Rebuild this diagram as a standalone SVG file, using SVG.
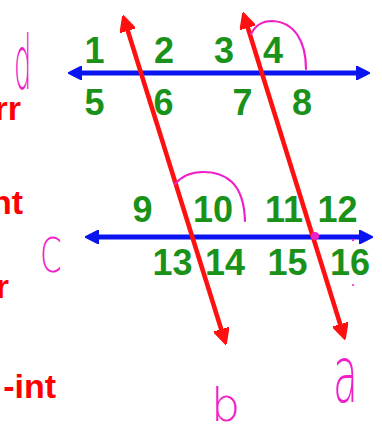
<svg xmlns="http://www.w3.org/2000/svg" width="382" height="426" viewBox="0 0 382 426">
<style>
.num{font-family:"Liberation Sans",Arial,sans-serif;font-weight:bold;font-size:36px;fill:#1a921a;text-anchor:middle}
.side{font-family:"Liberation Sans",Arial,sans-serif;font-weight:bold;font-size:34px;fill:#ff0000;text-anchor:end}
.hand{font-family:"DejaVu Sans",sans-serif;font-weight:200;fill:#f020c8}
.blue{stroke:#0a14f0;stroke-width:5;fill:none}
.red{stroke:#ff1010;stroke-width:4.5;fill:none}
.arc{stroke:#f020c8;stroke-width:2.2;fill:none;stroke-linecap:round}
</style>
<defs>
<marker id="ab" viewBox="0 0 14 14" refX="5" refY="7" markerWidth="14" markerHeight="14" markerUnits="userSpaceOnUse" orient="auto-start-reverse">
<path d="M0,0 L14,7 L0,14 z" fill="#0a14f0" stroke="#0a14f0" stroke-width="1.5" stroke-linejoin="round"/>
</marker>
<marker id="ar" viewBox="0 0 16 16" refX="6" refY="8" markerWidth="16" markerHeight="16" markerUnits="userSpaceOnUse" orient="auto-start-reverse">
<path d="M0,0 L16,8 L0,16 z" fill="#ff1010" stroke="#ff1010" stroke-width="1.5" stroke-linejoin="round"/>
</marker>
</defs>
<rect width="382" height="426" fill="#ffffff"/>
<g id="connectors">
<line id="line-d" class="blue" x1="77" y1="73" x2="361" y2="73" marker-start="url(#ab)" marker-end="url(#ab)"/>
<line id="line-c" class="blue" x1="94" y1="237" x2="364" y2="237" marker-start="url(#ab)" marker-end="url(#ab)"/>
<line id="line-b" class="red" x1="126" y1="25" x2="223" y2="335" marker-start="url(#ar)" marker-end="url(#ar)"/>
<line id="line-a" class="red" x1="246" y1="22" x2="342" y2="330" marker-start="url(#ar)" marker-end="url(#ar)"/>
<path class="arc" d="M251,34 C256,24 264,21 272,21 C295,22 306,42 306,69"/>
<path class="arc" d="M175,184 C182,176 192,172 203,172 C225,172 244,182 245,221"/>
<circle cx="315" cy="236" r="4" fill="#f020c8"/>
<circle cx="353" cy="240" r="1.2" fill="#f020c8"/>
<circle cx="353" cy="285" r="1" fill="#f020c8"/>
</g>
<g id="angles-top">
<text class="num" x="94.5" y="63">1</text>
<text class="num" x="164" y="63">2</text>
<text class="num" x="224" y="63">3</text>
<text class="num" x="273" y="63">4</text>
<text class="num" x="94.5" y="115">5</text>
<text class="num" x="163.5" y="115">6</text>
<text class="num" x="242.5" y="115">7</text>
<text class="num" x="302" y="115">8</text>
</g>
<g id="angles-bottom">
<text class="num" x="142.5" y="222">9</text>
<text class="num" x="213" y="222">10</text>
<text class="num" x="284" y="222">11</text>
<text class="num" x="337.5" y="222">12</text>
<text class="num" x="172.5" y="275">13</text>
<text class="num" x="225" y="275">14</text>
<text class="num" x="287.5" y="275">15</text>
<text class="num" x="350" y="275">16</text>
</g>
<g id="line-labels">
<text class="hand" font-size="50" transform="translate(14,89) scale(0.55,1.5)">d</text>
<text class="hand" font-size="48" transform="translate(40,272) scale(0.65,1)">C</text>
<text class="hand" font-size="46" transform="translate(211,421)">b</text>
<text class="hand" font-size="58" transform="translate(333,402) scale(0.7,1.35)">a</text>
</g>
<g id="side-labels">
<text class="side" x="21" y="120">rr</text>
<text class="side" x="23" y="214">nt</text>
<text class="side" x="9" y="298">r</text>
<text class="side" x="56" y="398">-int</text>
</g>
</svg>
